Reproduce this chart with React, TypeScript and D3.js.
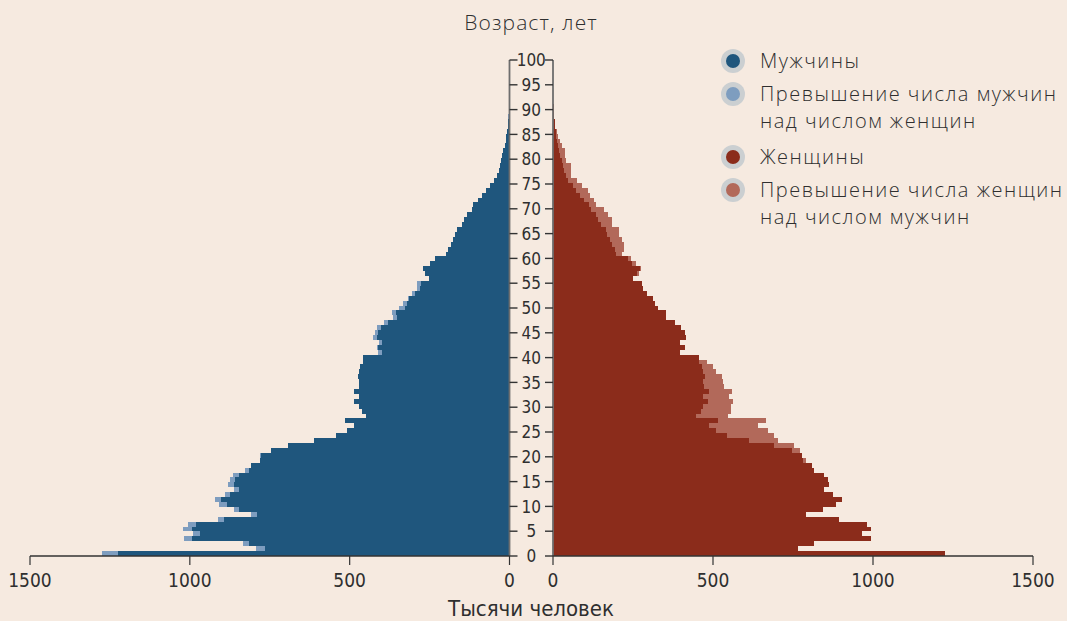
import React, { useRef, useEffect } from 'react';
import * as d3 from 'd3';

// ages 0..100, one bar per year
const ages = d3.range(0, 101);

// thousands of people, by single year of age (0..100)
const men = [
  1276, 794, 834, 1018, 990, 1021, 1005, 912, 809, 862,
  909, 920, 891, 862, 880, 874, 864, 828, 809, 781,
  779, 746, 692, 612, 544, 509, 487, 515, 448, 462,
  470, 485, 470, 488, 472, 470, 474, 470, 467, 457,
  457, 411, 415, 408, 426, 422, 415, 394, 365, 368,
  347, 332, 316, 306, 288, 288, 251, 264, 271, 248,
  234, 198, 193, 183, 178, 170, 165, 149, 142, 134,
  118, 114, 97, 85, 73, 61, 48, 40, 34, 31,
  28, 22, 19, 15, 12, 10, 8, 6, 5, 4,
  3, 2, 1, 1, 0, 0, 0, 0, 0, 0, 0,
];

const women = [
  1224, 766, 816, 994, 967, 994, 982, 894, 791, 845,
  884, 904, 875, 846, 862, 859, 847, 815, 808, 790,
  778, 772, 754, 704, 691, 671, 642, 665, 546, 556,
  555, 564, 550, 558, 534, 532, 527, 508, 499, 480,
  457, 398, 412, 398, 415, 411, 401, 380, 352, 354,
  328, 320, 314, 295, 280, 278, 251, 269, 276, 258,
  244, 217, 222, 222, 215, 206, 206, 185, 183, 171,
  158, 135, 128, 115, 110, 92, 74, 57, 56, 55,
  42, 38, 37, 29, 22, 17, 11, 7, 5, 3,
  2, 2, 1, 1, 0, 0, 0, 0, 0, 0, 0,
];

const ageTicks = [0, 5, 10, 15, 20, 25, 30, 35, 40, 45, 50, 55, 60, 65, 70, 75, 80, 85, 90, 95, 100];
const valueTicks = [0, 500, 1000, 1500];

const legendLabels = [
  ['Мужчины'],
  ['Превышение числа мужчин', 'над числом женщин'],
  ['Женщины'],
  ['Превышение числа женщин', 'над числом мужчин'],
];

const C = {
  bg: '#f6eae0',
  male: '#1f567d',
  maleExcess: '#7e9dbf',
  female: '#8b2c1b',
  femaleExcess: '#b2695a',
  ring: '#cbcfd1',
  text: '#2f2f2f',
  axis: '#333333',
};
const legendColors = [C.male, C.maleExcess, C.female, C.femaleExcess];

const W = 1067;
const H = 621;
const labelFont = "'Liberation Sans Narrow', 'DejaVu Sans Condensed', Roboto, sans-serif";
const textFont = "'Open Sans', Roboto, sans-serif";

const Pyramid: React.FC = () => {
  const svgRef = useRef<SVGSVGElement>(null);

  useEffect(() => {
    if (!svgRef.current) return;
    const svg = d3.select(svgRef.current);
    svg.selectAll('*').remove();

    svg.append('rect').attr('width', W).attr('height', H).attr('fill', C.bg);

    const yTop = 60;
    const yBottom = 556;
    const leftZero = 509.5;
    const rightZero = 553;

    const xL = d3.scaleLinear().domain([0, 1500]).range([leftZero, 30]);
    const xR = d3.scaleLinear().domain([0, 1500]).range([rightZero, 1033]);
    const yBand = d3.scaleBand<number>().domain(ages).range([yBottom, yTop]).padding(0);
    const yLin = d3.scaleLinear().domain([0, 100]).range([yBottom, yTop]);
    const bw = yBand.bandwidth();

    const rows = ages.map((a, i) => ({ age: a, m: men[i], f: women[i] }));

    const bars = svg.append('g').attr('shape-rendering', 'crispEdges');
    rows.forEach(d => {
      const y = yBand(d.age)!;
      const both = Math.min(d.m, d.f);
      // men, left side
      if (d.m > both) {
        bars.append('rect')
          .attr('x', xL(d.m)).attr('y', y)
          .attr('width', xL(both) - xL(d.m)).attr('height', bw)
          .attr('fill', C.maleExcess);
      }
      if (both > 0) {
        bars.append('rect')
          .attr('x', xL(both)).attr('y', y)
          .attr('width', leftZero - xL(both)).attr('height', bw)
          .attr('fill', C.male);
        bars.append('rect')
          .attr('x', rightZero).attr('y', y)
          .attr('width', xR(both) - rightZero).attr('height', bw)
          .attr('fill', C.female);
      }
      // women, right side
      if (d.f > both) {
        bars.append('rect')
          .attr('x', xR(both)).attr('y', y)
          .attr('width', xR(d.f) - xR(both)).attr('height', bw)
          .attr('fill', C.femaleExcess);
      }
    });

    // age axes (two vertical lines with inward ticks)
    const axes = svg.append('g');
    [leftZero, rightZero].forEach(x => {
      axes.append('line')
        .attr('x1', x).attr('x2', x).attr('y1', yTop).attr('y2', yBottom)
        .attr('stroke', '#6e6e6e').attr('stroke-width', 1.8);
    });

    ageTicks.forEach(t => {
      const y = yLin(t);
      axes.append('line')
        .attr('x1', leftZero).attr('x2', leftZero + 8).attr('y1', y).attr('y2', y)
        .attr('stroke', C.axis).attr('stroke-width', 1.4);
      axes.append('line')
        .attr('x1', rightZero).attr('x2', rightZero - 8).attr('y1', y).attr('y2', y)
        .attr('stroke', C.axis).attr('stroke-width', 1.4);
      axes.append('text')
        .attr('x', (leftZero + rightZero) / 2).attr('y', y)
        .attr('dy', '0.36em')
        .attr('text-anchor', 'middle')
        .style('font-family', labelFont).style('font-size', '17px')
        .attr('fill', C.text)
        .text(t);
    });

    // value axes at the bottom
    [[xL, 30, leftZero], [xR, rightZero, 1033]].forEach(([sc, a, b]: any) => {
      axes.append('line')
        .attr('x1', a).attr('x2', b).attr('y1', yBottom).attr('y2', yBottom)
        .attr('stroke', C.axis).attr('stroke-width', 1.4);
      valueTicks.forEach(v => {
        const x = sc(v);
        axes.append('line')
          .attr('x1', x).attr('x2', x).attr('y1', yBottom).attr('y2', yBottom + 9)
          .attr('stroke', C.axis).attr('stroke-width', 1.2);
        axes.append('text')
          .attr('x', x).attr('y', 587)
          .attr('text-anchor', 'middle')
          .style('font-family', labelFont).style('font-size', '19px')
          .attr('fill', C.text)
          .text(v);
      });
    });

    // axis titles
    svg.append('text')
      .attr('x', 531).attr('y', 30)
      .attr('text-anchor', 'middle')
      .style('font-family', textFont).style('font-size', '21px').style('font-weight', 300)
      .style('letter-spacing', '1.1px')
      .attr('fill', C.text)
      .text('Возраст, лет');
    svg.append('text')
      .attr('x', 531).attr('y', 616)
      .attr('text-anchor', 'middle')
      .style('font-family', labelFont).style('font-size', '22px')
      .attr('fill', C.text)
      .text('Тысячи человек');

    // legend
    const legendY = [61, 94, 157, 190];
    const legend = svg.append('g');
    legendLabels.forEach((lines, i) => {
      const cy = legendY[i];
      legend.append('circle').attr('cx', 733).attr('cy', cy).attr('r', 12).attr('fill', C.ring);
      legend.append('circle').attr('cx', 733).attr('cy', cy).attr('r', 7).attr('fill', legendColors[i]);
      lines.forEach((ln, j) => {
        legend.append('text')
          .attr('x', 760).attr('y', cy + j * 26.5)
          .attr('dy', '0.36em')
          .style('font-family', textFont).style('font-size', '20px').style('font-weight', 300)
          .style('letter-spacing', '1.5px')
          .attr('fill', C.text)
          .text(ln);
      });
    });
  }, []);

  return <svg ref={svgRef} width={W} height={H} style={{ display: 'block' }} />;
};

export default function App() {
  return (
    <div style={{ position: 'absolute', left: 0, top: 0, width: W, height: H }}>
      <Pyramid />
    </div>
  );
}
